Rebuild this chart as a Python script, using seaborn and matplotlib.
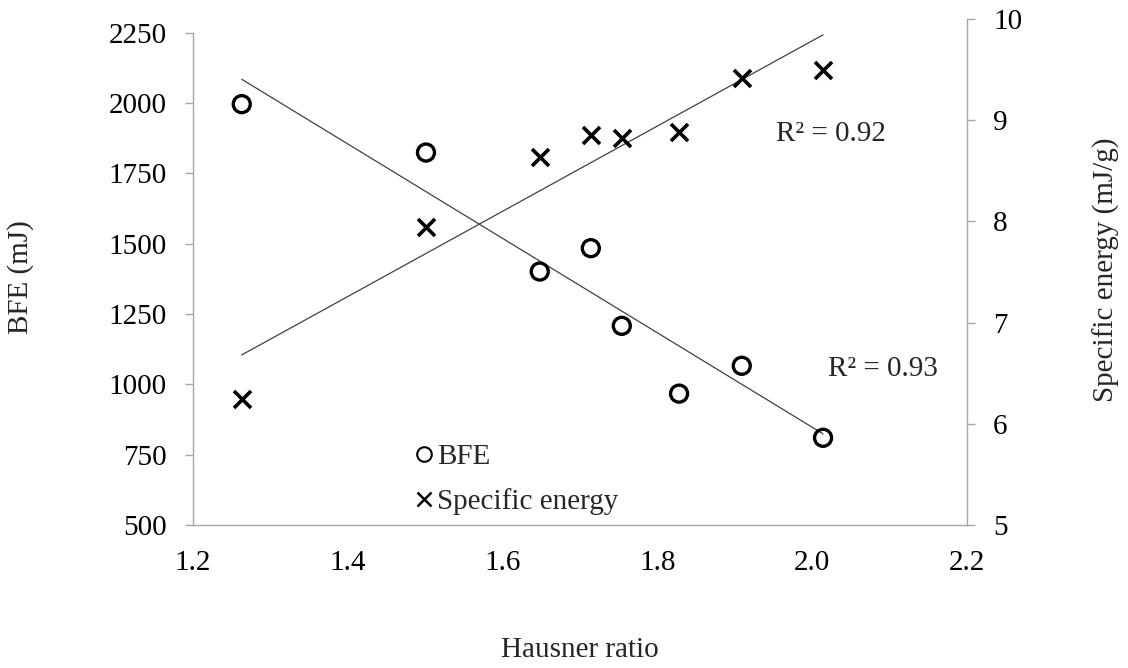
import numpy as np
import pandas as pd
import matplotlib
matplotlib.use("Agg")
import matplotlib.pyplot as plt
from matplotlib.lines import Line2D
import seaborn as sns

# Measurements: Hausner ratio vs. basic flowability energy and specific energy
hausner = [1.263, 1.501, 1.648, 1.714, 1.754, 1.828, 1.909, 2.014]
bfe = [1996, 1824, 1401, 1484, 1208, 967, 1066, 810]
spec_energy = [6.25, 7.94, 8.64, 8.85, 8.82, 8.88, 9.42, 9.50]

x_ticks = [1.2, 1.4, 1.6, 1.8, 2.0, 2.2]
bfe_ticks = [500, 750, 1000, 1250, 1500, 1750, 2000, 2250]
se_ticks = [5, 6, 7, 8, 9, 10]
r2_labels = ["R\u00b2 = 0.92", "R\u00b2 = 0.93"]
series_names = ["BFE", "Specific energy"]

df = pd.DataFrame({"hausner": hausner, "bfe": bfe, "se": spec_energy})

sns.set_theme(style="white")
plt.rcParams["font.family"] = ["Liberation Serif", "DejaVu Serif"]
FS = 21
AXC = "#a6a6a6"
LINEC = "#404040"

fig = plt.figure(figsize=(11.28, 6.68), dpi=100)
ax = fig.add_axes([193 / 1128, 1 - 525 / 668, 774 / 1128, 506 / 668])
ax2 = ax.twinx()

# BFE on the left axis: open circles + linear trend
sns.regplot(data=df, x="hausner", y="bfe", ax=ax, scatter=False, ci=None,
            truncate=True, line_kws=dict(color=LINEC, lw=0.9))
sns.scatterplot(data=df, x="hausner", y="bfe", ax=ax, marker="o", s=150,
                facecolor="none", edgecolor="black", linewidth=2.4, zorder=3)

# Specific energy on the right axis: crosses + linear trend
sns.regplot(data=df, x="hausner", y="se", ax=ax2, scatter=False, ci=None,
            truncate=True, line_kws=dict(color=LINEC, lw=0.9))
sns.scatterplot(data=df, x="hausner", y="se", ax=ax2, marker="x", s=150,
                color="black", linewidth=2.6, zorder=3)

ax.set_xlim(1.2, 2.2)
ax.set_ylim(500, 2250 + 13.7 / (492.3 / 1750))
ax2.set_ylim(5, 10)

ax.set_xticks(x_ticks)
ax.set_xticklabels([f"{t:.1f}" for t in x_ticks])
ax.set_yticks(bfe_ticks)
ax.set_yticklabels([str(t) for t in bfe_ticks])
ax2.set_yticks(se_ticks)
ax2.set_yticklabels([str(t) for t in se_ticks])

for a in (ax, ax2):
    a.grid(False)
    for s in a.spines.values():
        s.set_color(AXC)
        s.set_linewidth(1.0)
    a.spines["top"].set_visible(False)
    a.tick_params(axis="both", direction="out", length=5.8, width=1.0,
                  color=AXC, labelsize=FS, labelcolor="black")
ax.spines["right"].set_visible(False)
ax.spines["left"].set_bounds(500, 2250)
ax2.spines["left"].set_visible(False)
ax2.spines["bottom"].set_visible(False)
ax.tick_params(axis="y", pad=13)
ax.tick_params(axis="x", pad=12)
ax2.tick_params(axis="y", pad=13)

ax.set_xlabel("Hausner ratio", fontsize=FS)
ax.set_ylabel("BFE (mJ)", fontsize=FS)
ax2.set_ylabel("Specific energy (mJ/g)", fontsize=FS)
ax.xaxis.set_label_coords(0.5, -0.221)
ax.yaxis.set_label_coords(-0.205, 0.49)
ax2.yaxis.set_label_coords(1.162, 0.505)

ax2.text(1.953, 8.86, r2_labels[0], fontsize=FS, va="center", ha="left")
ax2.text(2.020, 6.54, r2_labels[1], fontsize=FS, va="center", ha="left")

handles = [
    Line2D([], [], ls="none", marker="o", ms=10.5, mfc="none", mec="black", mew=1.5),
    Line2D([], [], ls="none", marker="x", ms=10, color="black", mew=1.8),
]
ax.legend(handles, series_names, loc="upper left", bbox_to_anchor=(0.266, 0.19),
          frameon=False, fontsize=FS, handlelength=0.7, handletextpad=0.1,
          borderpad=0, labelspacing=0.62)

fig.savefig("out.png", dpi=100)
